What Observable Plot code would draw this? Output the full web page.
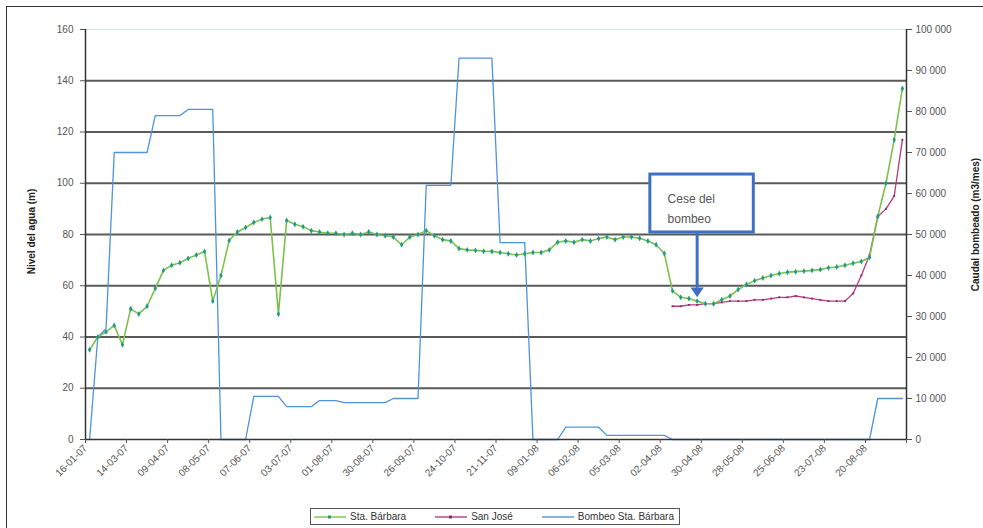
<!DOCTYPE html>
<html>
<head>
<meta charset="utf-8">
<script src="https://cdn.jsdelivr.net/npm/d3@7"></script>
<script src="https://cdn.jsdelivr.net/npm/@observablehq/plot@0.6"></script>
<style>
  html, body { margin: 0; padding: 0; background: #fff; }
  #wrap { position: relative; width: 983px; height: 528px; overflow: hidden; font-family: "Liberation Sans", Arial, sans-serif; }
  #frame { position: absolute; left: 6px; top: 6px; width: 990px; height: 540px; border: 1px solid #333; box-sizing: border-box; }
  #chart { position: absolute; left: 0; top: 0; }
  .ytitle { position: absolute; font-weight: bold; font-size: 10px; color: #222; white-space: nowrap; transform-origin: center center; }
  #legend { position: absolute; left: 310px; top: 508px; height: 17px; width: 370px; border: 1px solid #555; background: #fff; display: flex; align-items: center; justify-content: space-between; font-size: 10px; color: #333; padding: 0 5px 0 2px; box-sizing: border-box; }
  #legend .it { display: flex; align-items: center; }
  #legend svg { margin-right: 3px; }
</style>
</head>
<body>
<div id="wrap">
  <div id="frame"></div>
  <div id="chart"></div>
  <div class="ytitle" id="ltitle">Nivel del agua (m)</div>
  <div class="ytitle" id="rtitle">Caudal bombeado (m3/mes)</div>
  <div id="legend"></div>
</div>
<script>
// ---- data ----
const xLabels = ["16-01-07","14-03-07","09-04-07","08-05-07","07-06-07","03-07-07","01-08-07","30-08-07","26-09-07","24-10-07",
                 "21-11-07","09-01-08","06-02-08","05-03-08","02-04-08","30-04-08","28-05-08","25-06-08","23-07-08","20-08-08"];
const leftTicks = [0, 20, 40, 60, 80, 100, 120, 140, 160];
const gridLevels = [20, 40, 60, 80, 100, 120, 140];
const rightTicks = [0, 10000, 20000, 30000, 40000, 50000, 60000, 70000, 80000, 90000, 100000];

// Nivel Sta. Bárbara (m), one value per category (100 categories)
const staBarbara = [35,40,42,44.5,37,51,49,52,59,66,
  68,69,70.6,72,73.4,54,64,77.7,81,82.7,
  84.7,86,86.6,49,85.5,84,83,81.5,81,80.5,
  80.5,80,80.5,80,81,80,79.5,79,76,79,
  80,81.5,79.5,78,77.5,74.5,74,73.8,73.5,73.4,
  73,72.5,72,72.5,73,73,74,77,77.5,77,
  78,77.5,78.4,79,78,79,79,78.5,77.5,76,
  72.6,58,55.5,55,54,53,53,54.5,56,58.5,
  60.5,62,63,64,64.8,65.3,65.5,65.7,66,66.3,
  67,67.3,68,68.8,69.5,71,87,100,117,137];

// Nivel San José (m), starting at category 71
const sanJoseStart = 71;
const sanJose = [52,52,52.5,52.5,53,53,53.5,54,54,54,
  54.5,54.5,55,55.5,55.5,56,55.5,55,54.5,54,
  54,54,57,64,72,87,90,95,117];

// Caudal bombeado Sta. Bárbara (m3/mes)
const bombeo = [0,25000,27000,70000,70000,70000,70000,70000,79000,79000,
  79000,79000,80500,80500,80500,80500,0,0,0,0,
  10500,10500,10500,10500,8000,8000,8000,8000,9500,9500,
  9500,9000,9000,9000,9000,9000,9000,10000,10000,10000,
  10000,62000,62000,62000,62000,93000,93000,93000,93000,93000,
  48000,48000,48000,48000,0,0,0,0,3000,3000,
  3000,3000,3000,1000,1000,1000,1000,1000,1000,1000,
  1000,0,0,0,0,0,0,0,0,0,
  0,0,0,0,0,0,0,0,0,0,
  0,0,0,0,0,0,10000,10000,10000,10000];

// ---- build ----
const leftMax = 160, rightMax = 100000;
const toLeft = v => v * leftMax / rightMax;
const greenRows = staBarbara.map((v, i) => ({x: i + 0.5, y: v}));
const pinkRows = sanJose.map((v, i) => ({x: sanJoseStart + i + 0.5, y: v}));
const blueRows = bombeo.map((v, i) => ({x: i + 0.5, y: toLeft(v)}));
const fmtSpace = v => d3.format(",")(v).replace(/,/g, " ");

const C_GREEN = "#7cc24a", C_GREEN_MK = "#1f9a8c", C_PINK = "#b83a7e", C_BLUE = "#4f93dc", C_NOTE = "#3d70c4";

const note = [{x1: 68.8, x2: 81.4, y1: 80.8, y2: 103.4}];

// downward arrowhead symbol (tip at the point's origin)
const arrowHead = {
  draw(context, size) {
    const w = Math.sqrt(size) * 0.75, h = Math.sqrt(size) * 1.1;
    context.moveTo(0, 0);
    context.lineTo(-w, -h);
    context.lineTo(w, -h);
    context.closePath();
  }
};

const chart = Plot.plot({
  width: 983, height: 500,
  marginLeft: 85, marginRight: 77, marginTop: 29, marginBottom: 61,
  style: {fontFamily: "Liberation Sans, Arial, sans-serif", fontSize: "10px", color: "#555", background: "transparent"},
  x: {domain: [0, 100]},
  y: {domain: [0, leftMax]},
  marks: [
    Plot.ruleY([160], {stroke: "#d6e0e8", strokeWidth: 1}),
    Plot.ruleY(gridLevels, {stroke: "#5a5a5a", strokeWidth: 2}),
    Plot.line(blueRows, {x: "x", y: "y", stroke: C_BLUE, strokeWidth: 1.3}),
    Plot.line(pinkRows, {x: "x", y: "y", stroke: C_PINK, strokeWidth: 1.3}),
    Plot.dot(pinkRows, {x: "x", y: "y", symbol: "square", r: 1.1, fill: "#8e2f73"}),
    Plot.line(greenRows, {x: "x", y: "y", stroke: C_GREEN, strokeWidth: 1.6}),
    Plot.dot(greenRows, {x: "x", y: "y", symbol: "diamond", r: 1.8, fill: C_GREEN_MK}),
    Plot.ruleX([0, 100], {stroke: "#333", strokeWidth: 1.5}),
    Plot.ruleY([0], {stroke: "#333", strokeWidth: 1.5}),
    Plot.axisY({ticks: leftTicks, tickSize: 5, tickPadding: 7, label: null}),
    Plot.axisY({anchor: "right", ticks: rightTicks.map(toLeft), tickFormat: d => fmtSpace(Math.round(d * rightMax / leftMax)), tickSize: 5, tickPadding: 4, label: null}),
    Plot.axisX({ticks: d3.range(0, 101, 5), tickFormat: d => xLabels[d / 5] ?? "", tickRotate: -45, tickSize: 4, tickPadding: 3, fontSize: 10, label: null}),
    Plot.rect(note, {x1: "x1", x2: "x2", y1: "y1", y2: "y2", fill: "#fff", stroke: C_NOTE, strokeWidth: 3}),
    Plot.text(["Cese del\nbombeo"], {x: 70.9, y: 98, text: d => d, textAnchor: "start", lineAnchor: "top", fontSize: 12, fill: "#555", lineHeight: 1.7}),
    Plot.ruleX([{x: 74.5, y1: 80.8, y2: 59}], {x: "x", y1: "y1", y2: "y2", stroke: C_NOTE, strokeWidth: 3}),
    Plot.dot([{x: 74.5, y: 55.5}], {x: "x", y: "y", symbol: arrowHead, r: 5, fill: C_NOTE, stroke: "none"})
  ]
});
document.getElementById("chart").appendChild(chart);

// titles
const lt = document.getElementById("ltitle");
lt.style.left = (31 - 60) + "px"; lt.style.top = (232 - 6) + "px"; lt.style.width = "120px"; lt.style.textAlign = "center";
lt.style.transform = "rotate(-90deg)";
const rt = document.getElementById("rtitle");
rt.style.left = (975 - 80) + "px"; rt.style.top = (225 - 6) + "px"; rt.style.width = "160px"; rt.style.textAlign = "center";
rt.style.transform = "rotate(-90deg)";

// legend
const legendItems = [
  {name: "Sta. Bárbara", color: C_GREEN, marker: C_GREEN_MK},
  {name: "San José", color: C_PINK, marker: "#8e2f73"},
  {name: "Bombeo Sta. Bárbara", color: C_BLUE, marker: null}
];
const lg = document.getElementById("legend");
for (const it of legendItems) {
  const d = document.createElement("div"); d.className = "it";
  const s = d3.create("svg").attr("width", 34).attr("height", 8);
  s.append("line").attr("x1", 1).attr("x2", 33).attr("y1", 4).attr("y2", 4).attr("stroke", it.color).attr("stroke-width", 1.4);
  if (it.marker) s.append("rect").attr("x", 15).attr("y", 2.5).attr("width", 3).attr("height", 3).attr("fill", it.marker);
  d.appendChild(s.node());
  const t = document.createElement("span"); t.textContent = it.name; d.appendChild(t);
  lg.appendChild(d);
}
</script>
</body>
</html>
